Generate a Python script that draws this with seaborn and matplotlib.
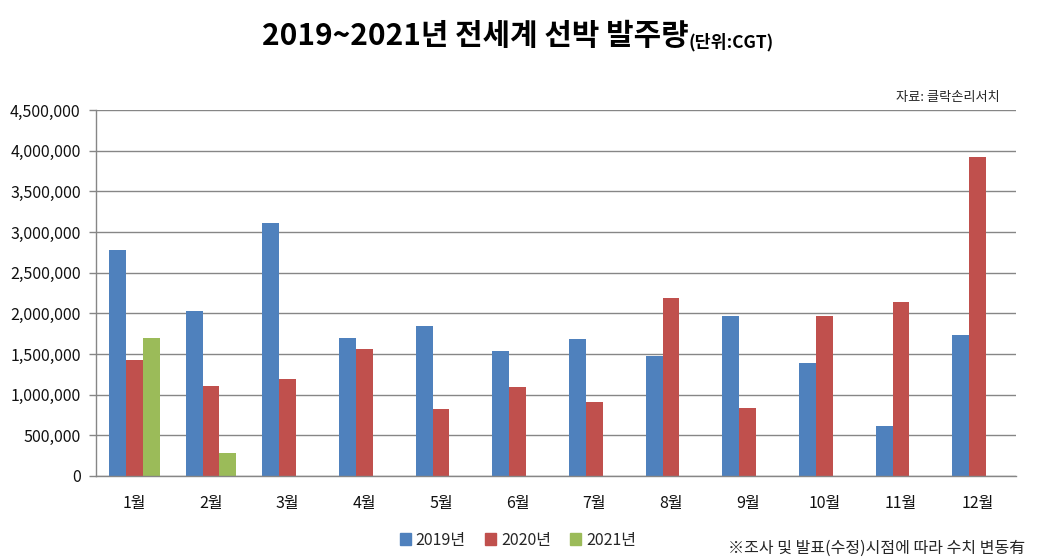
import matplotlib
matplotlib.use("Agg")
import matplotlib.pyplot as plt
import numpy as np
import pandas as pd
import seaborn as sns

# monthly orders (CGT)
months = ["1월", "2월", "3월", "4월", "5월", "6월", "7월", "8월", "9월", "10월", "11월", "12월"]
orders_2019 = [2780000, 2030000, 3110000, 1700000, 1845000, 1540000, 1685000, 1475000, 1970000, 1390000, 615000, 1735000]
orders_2020 = [1430000, 1110000, 1195000, 1565000, 825000, 1095000, 910000, 2190000, 840000, 1970000, 2140000, 3925000]
orders_2021 = [1700000, 285000]
years = ["2019년", "2020년", "2021년"]
colors = ["#4F81BD", "#C0504D", "#9BBB59"]

# long format table for seaborn
rows = []
for m, v in zip(months, orders_2019):
    rows.append((m, "2019년", v))
for m, v in zip(months, orders_2020):
    rows.append((m, "2020년", v))
for m, v in zip(months, orders_2021):
    rows.append((m, "2021년", v))
df = pd.DataFrame(rows, columns=["month", "year", "cgt"])

sns.set_style("white")
plt.rcParams["font.family"] = ["Noto Sans CJK KR", "DejaVu Sans"]

grid_col = "#868686"
fig = plt.figure(figsize=(10.39, 5.6), dpi=100)
ax = fig.add_axes([96 / 1039, 1 - 476 / 560, (1016 - 96) / 1039, (476 - 110) / 560])

sns.barplot(data=df, x="month", y="cgt", hue="year", order=months, hue_order=years,
            palette=colors, width=0.665, errorbar=None, saturation=1, linewidth=0, ax=ax)
ax.get_legend().remove()

ax.set_xlim(-0.5, 11.5)
ax.set_ylim(0, 4500000)
ax.set_yticks(np.arange(0, 4500001, 500000))
ax.set_yticklabels([f"{int(v):,}" for v in np.arange(0, 4500001, 500000)], fontsize=11.5, color="#111111")
ax.set_xticks(range(12))
ax.set_xticklabels(months, fontsize=11.5, color="#111111")
ax.set_xticks(np.arange(-0.5, 12, 1), minor=True)
ax.tick_params(axis="x", which="major", length=0, pad=14)
ax.tick_params(axis="x", which="minor", length=5, color=grid_col, width=1, direction="out")
ax.tick_params(axis="y", length=5, color=grid_col, width=1, direction="out", pad=6, left=True)
ax.set_xlabel("")
ax.set_ylabel("")

ax.yaxis.grid(True, color=grid_col, linewidth=1)
ax.set_axisbelow(True)
for s in ["top", "right"]:
    ax.spines[s].set_visible(False)
for s in ["left", "bottom"]:
    ax.spines[s].set_color(grid_col)
    ax.spines[s].set_linewidth(1)

# title in two parts
t1 = fig.text(262 / 1039, 1 - 45 / 560, "2019~2021년 전세계 선박 발주량", fontsize=21.5,
              fontweight="bold", ha="left", va="baseline", color="black")
fig.canvas.draw()
bb = t1.get_window_extent()
fig.text(bb.x1 / fig.bbox.width, 1 - 47 / 560, "(단위:CGT)", fontsize=12.5,
         fontweight="bold", ha="left", va="baseline", color="black")

fig.text(1000 / 1039, 1 - 98 / 560, "자료: 클락손리서치", fontsize=9.5, ha="right", va="center")

handles = [plt.Rectangle((0, 0), 1, 1, color=c) for c in colors]
fig.legend(handles, years, loc="center", bbox_to_anchor=(518 / 1039, 1 - 540 / 560), ncol=3,
           frameon=False, fontsize=11.5, handlelength=0.7, handleheight=0.7,
           handletextpad=0.3, columnspacing=1.2)

fig.text(1025 / 1039, 1 - 548 / 560, "※조사 및 발표(수정)시점에 따라 수치 변동有", fontsize=11.5,
         ha="right", va="center")

fig.savefig("out.png", dpi=100)
